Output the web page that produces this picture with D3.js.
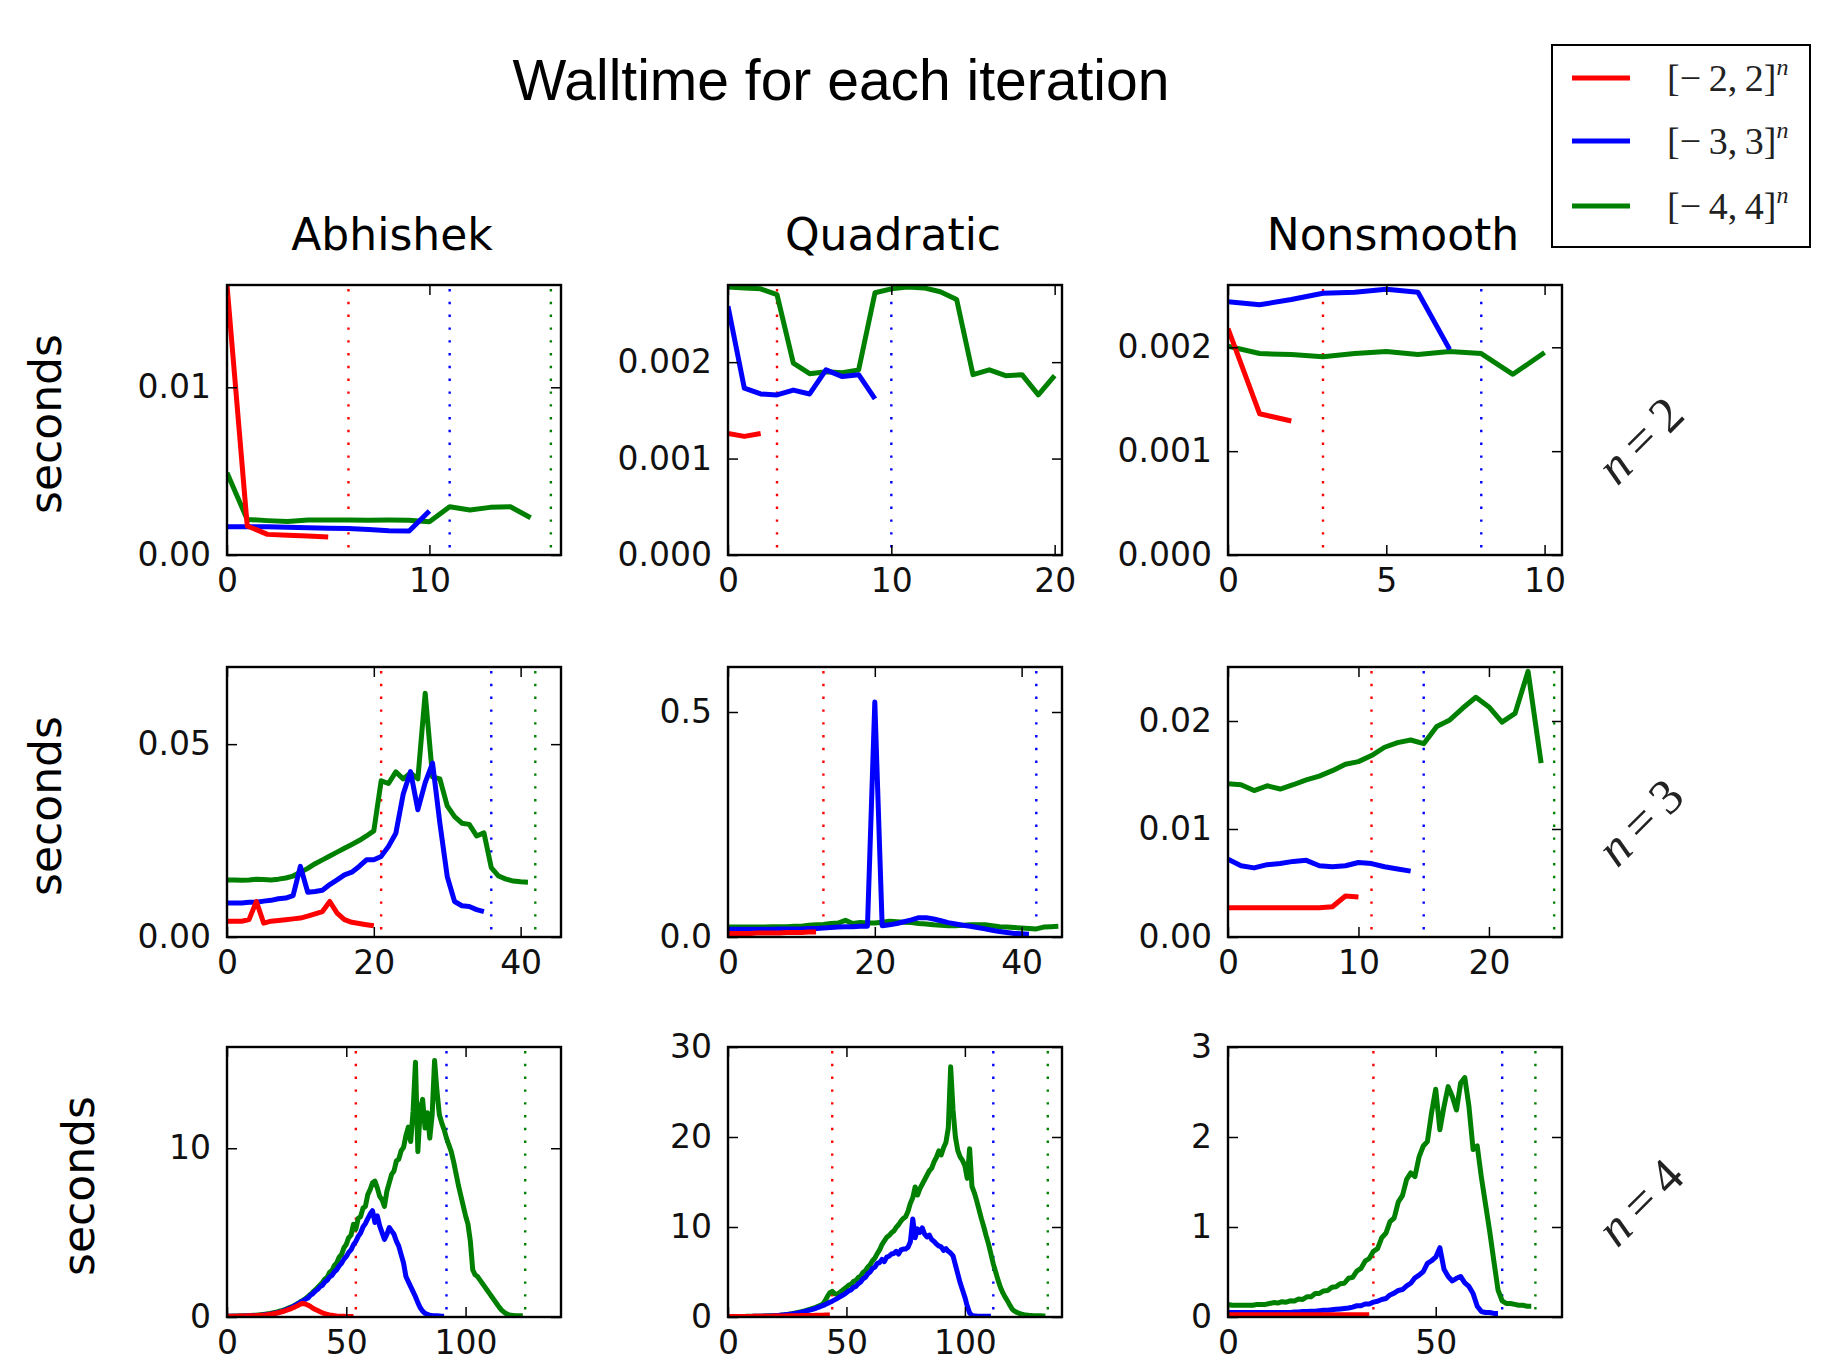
<!DOCTYPE html>
<html><head><meta charset="utf-8">
<script src="https://cdn.jsdelivr.net/npm/d3@7"></script>
<style>body{margin:0;background:#fff}</style>
</head><body>
<svg id="chart" width="1837" height="1365"></svg>
<script>
// ---------- labels ----------
const problems = ["Abhishek", "Quadratic", "Nonsmooth"];
const dimLabels = ["2", "3", "4"];
const seriesLabels = ["[\u2212\u20092,\u20092]", "[\u2212\u20093,\u20093]", "[\u2212\u20094,\u20094]"];
const seriesColors = ["#ff0000", "#0000ff", "#008000"];
const chartTitle = "Walltime for each iteration";

// ---------- n = 2 ----------
const abhishek_n2_red = [0.0161, 0.00173, 0.00123, 0.00118, 0.00113, 0.00107];
const abhishek_n2_blue = [0.00169, 0.00169, 0.00168, 0.00166, 0.00163, 0.00160, 0.00158, 0.00152, 0.00145, 0.00143, 0.00262];
const abhishek_n2_green = [0.0049, 0.00212, 0.00205, 0.00200, 0.00208, 0.00208, 0.00208, 0.00207, 0.00208, 0.00207, 0.00198, 0.00288, 0.00268, 0.00284, 0.00288, 0.00222];

const quadratic_n2_red = [0.00126, 0.00123, 0.00126];
const quadratic_n2_blue = [0.00258, 0.00173, 0.00167, 0.00166, 0.00171, 0.00167, 0.00192, 0.00185, 0.00187, 0.00162];
const quadratic_n2_green = [0.00278, 0.00277, 0.00276, 0.00270, 0.00199, 0.00188, 0.00190, 0.00189, 0.00192, 0.00272, 0.00276, 0.00278, 0.00277, 0.00273, 0.00265, 0.00187, 0.00192, 0.00186, 0.00187, 0.00166, 0.00186];

const nonsmooth_n2_red = [0.00218, 0.00136, 0.00129];
const nonsmooth_n2_blue = [0.00244, 0.00241, 0.00246, 0.00252, 0.00253, 0.00256, 0.00253, 0.00198];
const nonsmooth_n2_green = [0.00201, 0.00194, 0.00193, 0.00191, 0.00194, 0.00196, 0.00193, 0.00196, 0.00194, 0.00174, 0.00195];

// ---------- n = 3 ----------
const abhishek_n3_red = [0.0041, 0.0041, 0.0041, 0.0045, 0.0092, 0.0036, 0.0041, 0.0043, 0.0045, 0.0047, 0.0049, 0.0054, 0.0060, 0.0066, 0.0092, 0.0062, 0.0045, 0.0038, 0.0035, 0.0032, 0.0029];
const abhishek_n3_blue = [0.0088, 0.0088, 0.0088, 0.0090, 0.0090, 0.0093, 0.0095, 0.0099, 0.0101, 0.0107, 0.0183, 0.0116, 0.0118, 0.0121, 0.0136, 0.0148, 0.0161, 0.0168, 0.0183, 0.0200, 0.0200, 0.0209, 0.0235, 0.0269, 0.0370, 0.0429, 0.0330, 0.0400, 0.0451, 0.0295, 0.0157, 0.0092, 0.0081, 0.0079, 0.0071, 0.0066];
const abhishek_n3_green = [0.0148, 0.0148, 0.0147, 0.0148, 0.0150, 0.0149, 0.0148, 0.0150, 0.0153, 0.0158, 0.0168, 0.0178, 0.0190, 0.0200, 0.0210, 0.0220, 0.0230, 0.0240, 0.0250, 0.0262, 0.0275, 0.0405, 0.0398, 0.0428, 0.0410, 0.0425, 0.0410, 0.0632, 0.0415, 0.0410, 0.0340, 0.0312, 0.0295, 0.0292, 0.0262, 0.0270, 0.0180, 0.0158, 0.0150, 0.0145, 0.0143, 0.0142];

const quadratic_n3_red = [0.008, 0.008, 0.008, 0.008, 0.009, 0.009, 0.009, 0.009, 0.010, 0.010, 0.010, 0.011, 0.011];
const quadratic_n3_blue = [0.017, 0.017, 0.017, 0.017, 0.017, 0.017, 0.017, 0.018, 0.018, 0.018, 0.018, 0.019, 0.019, 0.020, 0.021, 0.022, 0.023, 0.023, 0.024, 0.024, 0.522, 0.025, 0.027, 0.030, 0.034, 0.038, 0.043, 0.043, 0.040, 0.036, 0.032, 0.029, 0.026, 0.024, 0.021, 0.018, 0.015, 0.012, 0.010, 0.008, 0.007, 0.006];
const quadratic_n3_green = [0.022, 0.022, 0.022, 0.022, 0.022, 0.022, 0.023, 0.023, 0.023, 0.024, 0.024, 0.026, 0.027, 0.028, 0.030, 0.031, 0.037, 0.030, 0.032, 0.031, 0.031, 0.033, 0.035, 0.034, 0.033, 0.032, 0.030, 0.029, 0.027, 0.026, 0.025, 0.025, 0.026, 0.027, 0.027, 0.027, 0.025, 0.023, 0.022, 0.021, 0.020, 0.019, 0.018, 0.022, 0.023, 0.024];

const nonsmooth_n3_red = [0.0027, 0.0027, 0.0027, 0.0027, 0.0027, 0.0027, 0.0027, 0.0027, 0.0028, 0.0038, 0.0037];
const nonsmooth_n3_blue = [0.0072, 0.0066, 0.0064, 0.0067, 0.0068, 0.0070, 0.0071, 0.0066, 0.0065, 0.0066, 0.0069, 0.0068, 0.0065, 0.0063, 0.0061];
const nonsmooth_n3_green = [0.01418, 0.0141, 0.01356, 0.0140, 0.0137, 0.0141, 0.01455, 0.0149, 0.0154, 0.0160, 0.01624, 0.0168, 0.01757, 0.0180, 0.01824, 0.0179, 0.0195, 0.0201, 0.0212, 0.0222, 0.0213, 0.0199, 0.0207, 0.0246, 0.0161];

// ---------- n = 4 ----------
const abhishek_n4_red = [
  0.05, 0.05, 0.05, 0.05, 0.05, 0.06, 0.06, 0.06, 0.06, 0.07,
  0.07, 0.08, 0.08, 0.09, 0.10, 0.11, 0.12, 0.14, 0.16, 0.18,
  0.21, 0.24, 0.27, 0.31, 0.35, 0.40, 0.45, 0.50, 0.56, 0.63,
  0.70, 0.78, 0.80, 0.76, 0.70, 0.62, 0.52, 0.45, 0.38, 0.31,
  0.25, 0.20, 0.16, 0.12, 0.10, 0.08, 0.06, 0.05, 0.04, 0.04,
  0.03, 0.03, 0.03, 0.03];
const abhishek_n4_blue = [
  0.04, 0.04, 0.04, 0.04, 0.05, 0.05, 0.05, 0.05, 0.06, 0.06,
  0.07, 0.07, 0.08, 0.09, 0.10, 0.11, 0.13, 0.15, 0.17, 0.19,
  0.22, 0.25, 0.29, 0.33, 0.38, 0.44, 0.50, 0.57, 0.64, 0.72,
  0.80, 0.90, 0.95, 1.07, 1.13, 1.30, 1.38, 1.54, 1.63, 1.80,
  1.88, 2.08, 2.18, 2.38, 2.47, 2.68, 2.80, 3.03, 3.18, 3.43,
  3.58, 3.83, 3.98, 4.28, 4.48, 4.78, 4.98, 5.33, 5.53, 5.83,
  6.10, 6.30, 5.60, 6.00, 5.40, 5.00, 4.60, 4.90, 5.30, 5.10,
  4.90, 4.50, 4.20, 3.70, 3.20, 2.40, 2.10, 1.80, 1.50, 1.20,
  0.85, 0.55, 0.35, 0.22, 0.15, 0.11, 0.09, 0.08, 0.07, 0.06,
  0.05, 0.05];
const abhishek_n4_green = [
  0.05, 0.05, 0.05, 0.06, 0.06, 0.06, 0.07, 0.07, 0.08, 0.08,
  0.09, 0.10, 0.11, 0.12, 0.13, 0.15, 0.17, 0.19, 0.21, 0.24,
  0.27, 0.30, 0.34, 0.38, 0.43, 0.48, 0.54, 0.60, 0.67, 0.75,
  0.83, 0.92, 1.00, 1.10, 1.22, 1.35, 1.48, 1.60, 1.75, 1.90,
  2.05, 2.25, 2.35, 2.65, 2.75, 3.05, 3.20, 3.55, 3.70, 4.10,
  4.30, 4.70, 4.85, 5.50, 5.20, 5.85, 5.95, 6.45, 6.55, 7.25,
  7.55, 7.95, 8.05, 7.65, 7.15, 6.95, 6.55, 7.45, 7.95, 8.45,
  8.65, 9.25, 9.35, 9.85, 10.05, 10.75, 11.25, 10.40, 12.20, 15.10,
  9.80, 12.30, 12.90, 11.20, 12.10, 10.60, 12.00, 15.20, 13.40, 12.00,
  11.50, 11.10, 10.60, 10.20, 9.80, 9.20, 8.50, 7.80, 7.20, 6.60,
  6.00, 5.50, 4.50, 2.80, 2.50, 2.40, 2.20, 2.00, 1.80, 1.60,
  1.40, 1.20, 1.00, 0.80, 0.60, 0.42, 0.30, 0.20, 0.14, 0.10,
  0.09, 0.08, 0.08, 0.08, 0.08];

const quadratic_n4_red = [
  0.05, 0.05, 0.05, 0.05, 0.05, 0.05, 0.06, 0.06, 0.06, 0.06,
  0.06, 0.07, 0.07, 0.07, 0.08, 0.08, 0.08, 0.09, 0.09, 0.10,
  0.10, 0.11, 0.11, 0.12, 0.12, 0.13, 0.13, 0.14, 0.14, 0.15,
  0.15, 0.16, 0.16, 0.17, 0.17, 0.18, 0.18, 0.19, 0.19, 0.20,
  0.20, 0.21, 0.21, 0.22];
const quadratic_n4_blue = [
  0.04, 0.04, 0.04, 0.04, 0.05, 0.05, 0.05, 0.05, 0.06, 0.06,
  0.06, 0.07, 0.07, 0.08, 0.08, 0.09, 0.10, 0.11, 0.12, 0.13,
  0.15, 0.17, 0.19, 0.21, 0.24, 0.27, 0.30, 0.34, 0.38, 0.43,
  0.48, 0.54, 0.60, 0.66, 0.73, 0.80, 0.88, 0.97, 1.06, 1.16,
  1.27, 1.38, 1.50, 1.63, 1.76, 1.90, 2.05, 2.20, 2.36, 2.52,
  2.70, 2.92, 3.02, 3.30, 3.40, 3.70, 3.90, 4.25, 4.40, 4.80,
  5.00, 5.40, 5.55, 5.95, 6.05, 6.40, 6.15, 6.65, 6.75, 7.00,
  7.05, 7.30, 7.00, 7.45, 7.55, 7.55, 7.75, 8.35, 10.90, 8.80,
  9.80, 9.40, 9.90, 9.20, 8.90, 9.10, 8.60, 8.40, 8.10, 7.90,
  7.80, 7.40, 7.60, 7.30, 7.10, 6.80, 5.80, 4.80, 3.80, 3.00,
  2.20, 1.20, 0.45, 0.18, 0.12, 0.10, 0.09, 0.08, 0.08, 0.07,
  0.07, 0.07];
const quadratic_n4_green = [
  0.05, 0.05, 0.05, 0.05, 0.06, 0.06, 0.06, 0.06, 0.07, 0.07,
  0.07, 0.08, 0.08, 0.09, 0.09, 0.10, 0.11, 0.12, 0.13, 0.14,
  0.16, 0.18, 0.20, 0.23, 0.26, 0.29, 0.33, 0.37, 0.42, 0.47,
  0.53, 0.59, 0.66, 0.73, 0.81, 0.89, 0.98, 1.08, 1.19, 1.30,
  1.45, 1.80, 2.30, 2.70, 2.85, 2.60, 2.50, 2.70, 2.90, 3.10,
  3.30, 3.55, 3.65, 3.95, 4.05, 4.40, 4.55, 4.95, 5.15, 5.55,
  5.80, 6.25, 6.55, 7.05, 7.45, 8.05, 8.45, 8.85, 9.05, 9.35,
  9.55, 9.95, 10.25, 10.65, 10.95, 11.15, 11.75, 12.65, 13.25, 14.45,
  13.55, 14.25, 14.75, 15.25, 15.75, 16.25, 16.55, 17.25, 17.75, 18.45,
  18.00, 18.80, 19.40, 21.00, 27.80, 23.00, 20.00, 18.50, 17.80, 17.40,
  16.80, 15.40, 18.70, 14.50, 13.80, 12.90, 11.90, 10.90, 10.00, 9.00,
  8.10, 7.00, 5.90, 5.00, 4.10, 3.30, 2.70, 2.20, 1.80, 1.30,
  0.85, 0.65, 0.50, 0.40, 0.32, 0.26, 0.22, 0.19, 0.17, 0.15,
  0.14, 0.13, 0.13, 0.12, 0.12];

const nonsmooth_n4_red = [
  0.025, 0.025, 0.025, 0.025, 0.025, 0.025, 0.025, 0.025, 0.025, 0.025,
  0.025, 0.025, 0.025, 0.025, 0.025, 0.025, 0.025, 0.025, 0.025, 0.025,
  0.025, 0.025, 0.025, 0.025, 0.025, 0.025, 0.025, 0.025, 0.025, 0.025,
  0.025, 0.025, 0.025, 0.025, 0.025];
const nonsmooth_n4_blue = [
  0.05, 0.05, 0.05, 0.05, 0.05, 0.05, 0.05, 0.05, 0.05, 0.05,
  0.05, 0.05, 0.05, 0.05, 0.05, 0.05, 0.055, 0.055, 0.06, 0.06,
  0.065, 0.065, 0.07, 0.075, 0.075, 0.08, 0.085, 0.09, 0.095, 0.10,
  0.11, 0.125, 0.125, 0.145, 0.145, 0.165, 0.175, 0.195, 0.205, 0.245,
  0.265, 0.295, 0.305, 0.345, 0.375, 0.435, 0.465, 0.505, 0.595, 0.625,
  0.665, 0.77, 0.53, 0.45, 0.40, 0.43, 0.45, 0.38, 0.34, 0.26,
  0.12, 0.06, 0.05, 0.05, 0.04, 0.04];
const nonsmooth_n4_green = [
  0.14, 0.13, 0.13, 0.13, 0.13, 0.13, 0.13, 0.14, 0.14, 0.14,
  0.15, 0.16, 0.155, 0.17, 0.165, 0.18, 0.178, 0.20, 0.195, 0.225,
  0.225, 0.26, 0.262, 0.29, 0.295, 0.33, 0.335, 0.37, 0.375, 0.43,
  0.44, 0.51, 0.54, 0.62, 0.65, 0.73, 0.76, 0.88, 0.93, 1.06,
  1.10, 1.28, 1.35, 1.53, 1.60, 1.56, 1.78, 1.90, 1.95, 2.27,
  2.53, 2.08, 2.34, 2.56, 2.45, 2.30, 2.60, 2.66, 2.34, 1.86,
  1.90, 1.55, 1.25, 0.95, 0.62, 0.30, 0.18, 0.15, 0.15, 0.14,
  0.13, 0.13, 0.12, 0.12];

// ---------- axis settings (rows n=2..4, cols problems) ----------
const xMax = [[16.5, 20.45, 10.55], [45.5, 45.5, 25.6], [140, 141, 80.4]];
const yMax = [[0.0161, 0.0028, 0.0026], [0.07, 0.6, 0.025], [16, 30, 3]];
const xTickValues = [
  [[0, 10], [0, 10, 20], [0, 5, 10]],
  [[0, 20, 40], [0, 20, 40], [0, 10, 20]],
  [[0, 50, 100], [0, 50, 100], [0, 50]]];
const yTickValues = [
  [[0, 0.01], [0, 0.001, 0.002], [0, 0.001, 0.002]],
  [[0, 0.05], [0, 0.5], [0, 0.01, 0.02]],
  [[0, 10], [0, 10, 20, 30], [0, 1, 2, 3]]];
const yTickLabels = [
  [["0.00", "0.01"], ["0.000", "0.001", "0.002"], ["0.000", "0.001", "0.002"]],
  [["0.00", "0.05"], ["0.0", "0.5"], ["0.00", "0.01", "0.02"]],
  [["0", "10"], ["0", "10", "20", "30"], ["0", "1", "2", "3"]]];

const grid = [
  [[abhishek_n2_red, abhishek_n2_blue, abhishek_n2_green],
   [quadratic_n2_red, quadratic_n2_blue, quadratic_n2_green],
   [nonsmooth_n2_red, nonsmooth_n2_blue, nonsmooth_n2_green]],
  [[abhishek_n3_red, abhishek_n3_blue, abhishek_n3_green],
   [quadratic_n3_red, quadratic_n3_blue, quadratic_n3_green],
   [nonsmooth_n3_red, nonsmooth_n3_blue, nonsmooth_n3_green]],
  [[abhishek_n4_red, abhishek_n4_blue, abhishek_n4_green],
   [quadratic_n4_red, quadratic_n4_blue, quadratic_n4_green],
   [nonsmooth_n4_red, nonsmooth_n4_blue, nonsmooth_n4_green]]];

// ---------- layout ----------
const colX = [227, 728, 1228];
const rowY = [285, 667, 1047];
const W = 334, H = 270;
const SANS = "'DejaVu Sans', sans-serif";
const SERIF = "'Liberation Serif', 'DejaVu Serif', serif";

const svg = d3.select("#chart");
svg.append("rect").attr("width", 1837).attr("height", 1365).attr("fill", "#fff");

svg.append("text").attr("x", 841).attr("y", 100).attr("text-anchor", "middle")
  .attr("font-family", "'Liberation Sans', Arial, sans-serif").attr("font-size", 57)
  .text(chartTitle);

problems.forEach((p, c) => {
  svg.append("text").attr("x", colX[c] + W / 2 - 2).attr("y", 250).attr("text-anchor", "middle")
    .attr("font-family", SANS).attr("font-size", 44).text(p);
});

const drawOrder = [2, 1, 0];

for (let r = 0; r < 3; r++) {
  for (let c = 0; c < 3; c++) {
    const g = svg.append("g").attr("transform", `translate(${colX[c]},${rowY[r]})`);
    const x = d3.scaleLinear().domain([0, xMax[r][c]]).range([0, W]);
    const y = d3.scaleLinear().domain([0, yMax[r][c]]).range([H, 0]);
    const clipId = `clip-${r}-${c}`;
    g.append("clipPath").attr("id", clipId).append("rect").attr("width", W).attr("height", H);
    const plot = g.append("g").attr("clip-path", `url(#${clipId})`);
    const series = grid[r][c];

    // dotted markers at the iteration count of each series
    series.forEach((s, k) => {
      const xv = s.length;
      if (xv > xMax[r][c]) return;
      plot.append("line").attr("x1", x(xv)).attr("x2", x(xv)).attr("y1", 4).attr("y2", H)
        .attr("stroke", seriesColors[k]).attr("stroke-width", 2.4)
        .attr("stroke-dasharray", "2.4,10.4");
    });

    const line = d3.line().x((d, i) => x(i)).y(d => y(d));
    drawOrder.forEach(k => {
      plot.append("path").datum(series[k]).attr("d", line)
        .attr("fill", "none").attr("stroke", seriesColors[k]).attr("stroke-width", 5)
        .attr("stroke-linejoin", "round").attr("stroke-linecap", "butt");
    });

    // axes
    const xt = xTickValues[r][c], yt = yTickValues[r][c], yl = yTickLabels[r][c];
    const ax = g.append("g").attr("transform", `translate(0,${H})`)
      .call(d3.axisBottom(x).tickValues(xt).tickSize(-10).tickPadding(14).tickFormat(d3.format("d")));
    const ay = g.append("g")
      .call(d3.axisLeft(y).tickValues(yt).tickSize(-10).tickPadding(16).tickFormat((d, i) => yl[i]));
    const at = g.append("g")
      .call(d3.axisTop(x).tickValues(xt).tickSize(-10).tickFormat(""));
    const ar = g.append("g").attr("transform", `translate(${W},0)`)
      .call(d3.axisRight(y).tickValues(yt).tickSize(-10).tickFormat(""));
    [ax, ay, at, ar].forEach(a => {
      a.select(".domain").remove();
      a.selectAll(".tick line").attr("stroke", "#000").attr("stroke-width", 1.5);
      a.selectAll("text").attr("font-family", SANS).attr("font-size", 33).attr("fill", "#111");
    });

    g.append("rect").attr("width", W).attr("height", H).attr("fill", "none")
      .attr("stroke", "#000").attr("stroke-width", 2.4);
  }
}

// y labels
const secondsX = [61, 61, 94];
for (let r = 0; r < 3; r++) {
  const cy = rowY[r] + H / 2 + 4;
  svg.append("text").attr("transform", `translate(${secondsX[r]},${cy}) rotate(-90)`)
    .attr("text-anchor", "middle").attr("font-family", SANS).attr("font-size", 44).text("seconds");
}

// row labels n = ...
dimLabels.forEach((d, r) => {
  const cy = rowY[r] + H / 2 + 20;
  const t = svg.append("text").attr("transform", `translate(1640,${cy}) rotate(-45)`)
    .attr("text-anchor", "middle").attr("dominant-baseline", "central")
    .attr("font-family", SERIF).attr("font-size", 50).attr("fill", "#222");
  t.append("tspan").attr("font-style", "italic").text("n");
  t.append("tspan").text("\u2009=\u2009" + d);
});

// legend
const leg = svg.append("g");
leg.append("rect").attr("x", 1552).attr("y", 45).attr("width", 258).attr("height", 202)
  .attr("fill", "#fff").attr("stroke", "#000").attr("stroke-width", 2);
const legY = [78, 141, 206];
seriesLabels.forEach((lab, k) => {
  leg.append("line").attr("x1", 1572).attr("x2", 1630).attr("y1", legY[k]).attr("y2", legY[k])
    .attr("stroke", seriesColors[k]).attr("stroke-width", 5);
  const t = leg.append("text").attr("x", 1667).attr("y", legY[k] + 13)
    .attr("font-family", SERIF).attr("font-size", 38).attr("fill", "#222");
  t.append("tspan").text(lab);
  t.append("tspan").attr("dy", -16).attr("font-size", 24).attr("font-style", "italic").text("n");
});
</script>
</body></html>
